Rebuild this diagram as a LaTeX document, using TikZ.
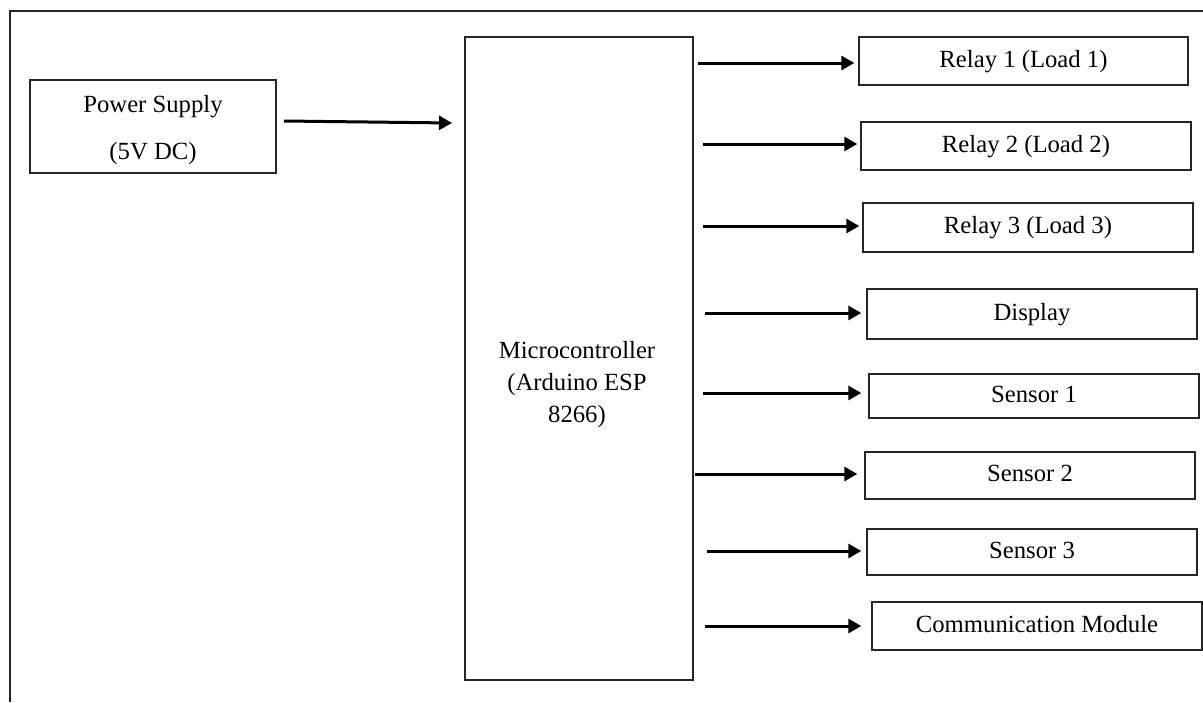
\documentclass[tikz,border=0pt]{standalone}
\usepackage{fontspec}
\setmainfont{Liberation Serif}
\usetikzlibrary{arrows.meta}
\begin{document}
\begin{tikzpicture}[x=1pt,y=-1pt,
  box/.style={draw=black!85,line width=1.4pt,inner sep=0pt,font=\fontsize{24.7}{29}\selectfont,text=black,text height=17pt,text depth=5pt},
  lbl/.style={inner sep=0pt,align=center,text=black},
  arr/.style={line width=3pt,-{Triangle[length=13pt,width=14pt]}},
  frame/.style={draw=black!85,line width=1.6pt}]
\useasboundingbox (0,0) rectangle (1203,702);
\draw[frame] (10,702) -- (10,11) -- (1203,11);
% power supply
\node[box,minimum width=246pt,minimum height=93pt] (ps) at (153,126.5) {};
\node[lbl,font=\fontsize{24.7}{47}\selectfont] (pst) at (153,130) {Power Supply\\(5V DC)};
% microcontroller
\node[box,minimum width=228pt,minimum height=643pt] (mc) at (579,358.5) {};
\node[lbl,font=\fontsize{24.7}{32}\selectfont] (mct) at (577,385) {Microcontroller\\(Arduino ESP\\8266)};
% outputs
\node[box,minimum width=329pt,minimum height=48pt] (r1) at (1023.5,61) {Relay 1 (Load 1)};
\node[box,minimum width=330pt,minimum height=48pt] (r2) at (1026,146) {Relay 2 (Load 2)};
\node[box,minimum width=330pt,minimum height=49pt] (r3) at (1028,227.5) {Relay 3 (Load 3)};
\node[box,minimum width=330pt,minimum height=50pt] (disp) at (1032,314) {Display};
\node[box,minimum width=330pt,minimum height=44pt] (s1) at (1034,396) {Sensor 1};
\node[box,minimum width=330pt,minimum height=47pt] (s2) at (1030,475.5) {Sensor 2};
\node[box,minimum width=330pt,minimum height=46pt] (s3) at (1032,552) {Sensor 3};
\node[box,minimum width=330pt,minimum height=48pt] (cm) at (1037,626) {Communication Module};
% arrows
\coordinate (p0) at (284,121);
\coordinate (p1) at (452,123);
\draw[arr] (p0) -- (p1);
\coordinate (a1) at (698,63);
\coordinate (a2) at (703,144);
\coordinate (a3) at (703,226);
\coordinate (a4) at (705,313);
\coordinate (a5) at (703,393);
\coordinate (a6) at (695,474);
\coordinate (a7) at (707,551);
\coordinate (a8) at (705,626);
\draw[arr,shorten >=4pt] (a1) -- (a1 -| r1.west);
\draw[arr,shorten >=3pt] (a2) -- (a2 -| r2.west);
\draw[arr,shorten >=3pt] (a3) -- (a3 -| r3.west);
\draw[arr,shorten >=5pt] (a4) -- (a4 -| disp.west);
\draw[arr,shorten >=7pt] (a5) -- (a5 -| s1.west);
\draw[arr,shorten >=7pt] (a6) -- (a6 -| s2.west);
\draw[arr,shorten >=5pt] (a7) -- (a7 -| s3.west);
\draw[arr,shorten >=10pt] (a8) -- (a8 -| cm.west);
\end{tikzpicture}
\end{document}
